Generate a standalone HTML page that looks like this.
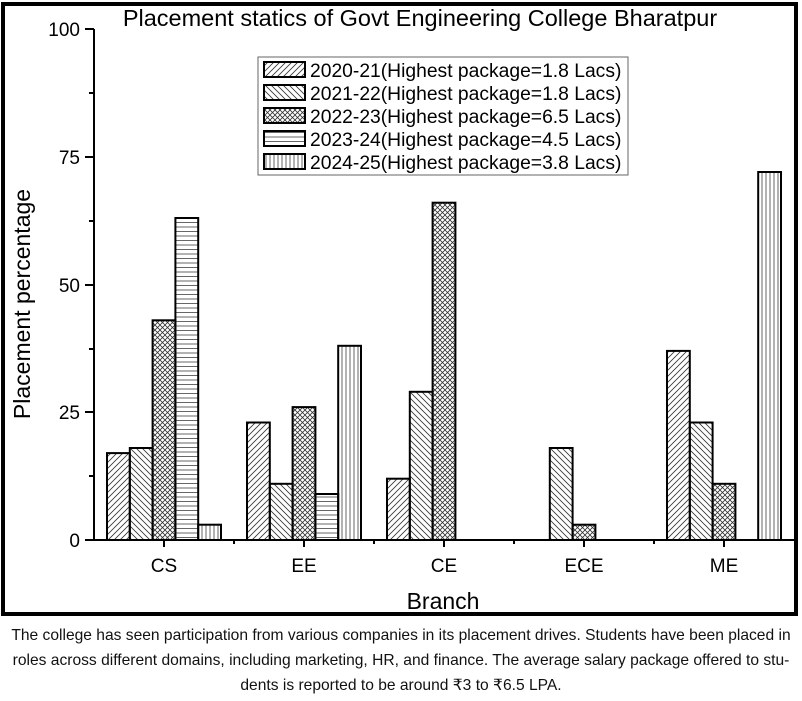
<!DOCTYPE html>
<html><head><meta charset="utf-8"><style>
body{margin:0;background:#fff;width:802px;height:701px;overflow:hidden;font-family:"Liberation Sans",sans-serif}
.cap{position:absolute;left:0;width:802px;top:623px;text-align:center;font-size:15.6px;line-height:25px;color:#111}
</style></head><body>
<svg width="802" height="701" style="position:absolute;left:0;top:0" font-family="Liberation Sans, sans-serif">
<defs>
<pattern id="p1" width="6" height="6" patternUnits="userSpaceOnUse"><path d="M-1,1 l2,-2 M0,6 l6,-6 M5,7 l2,-2" stroke="#333" stroke-width="0.8"/></pattern>
<pattern id="p2" width="6" height="6" patternUnits="userSpaceOnUse"><path d="M-1,5 l2,2 M0,0 l6,6 M5,-1 l2,2" stroke="#333" stroke-width="0.8"/></pattern>
<pattern id="p3" width="5" height="5" patternUnits="userSpaceOnUse"><path d="M0,0 l5,5 M0,5 l5,-5" stroke="#333" stroke-width="0.8"/></pattern>
<pattern id="p4" width="6" height="4.5" patternUnits="userSpaceOnUse"><path d="M0,2 h6" stroke="#555" stroke-width="0.9"/></pattern>
<pattern id="p5" width="4" height="6" patternUnits="userSpaceOnUse"><path d="M2,0 v6" stroke="#555" stroke-width="0.9"/></pattern>
</defs>
<rect x="3" y="4" width="793" height="610" fill="none" stroke="#000" stroke-width="4"/>
<text x="420" y="26" font-size="23.5" text-anchor="middle">Placement statics of Govt Engineering College Bharatpur</text>
<g stroke="#000" stroke-width="2" fill="none">
<path d="M94,29 V540 H794"/>
<path d="M85,29 h9 M89,93 h5 M85,157 h9 M89,221 h5 M85,285 h9 M89,349 h5 M85,412 h9 M89,476 h5 M85,540 h9"/>
<path d="M164,540 v7 M304,540 v7 M444,540 v7 M584,540 v7 M724,540 v7 M234,540 v4 M374,540 v4 M514,540 v4 M654,540 v4"/>
</g>
<g font-size="19" text-anchor="end">
<text x="80" y="36">100</text><text x="80" y="164">75</text><text x="80" y="292">50</text><text x="80" y="419">25</text><text x="80" y="547">0</text>
</g>
<g font-size="19" text-anchor="middle">
<text x="164" y="572">CS</text><text x="304" y="572">EE</text><text x="444" y="572">CE</text><text x="584" y="572">ECE</text><text x="724" y="572">ME</text>
</g>
<text x="443" y="609" font-size="23" text-anchor="middle">Branch</text>
<text transform="translate(30,304) rotate(-90)" font-size="23" text-anchor="middle">Placement percentage</text>
<g stroke="#000" stroke-width="2">
<rect x="107" y="453.1" width="22.8" height="86.9" fill="url(#p1)"/>
<rect x="129.8" y="448" width="22.8" height="92" fill="url(#p2)"/>
<rect x="152.6" y="320.3" width="22.8" height="219.7" fill="url(#p3)"/>
<rect x="175.4" y="218" width="22.8" height="322" fill="url(#p4)"/>
<rect x="198.2" y="524.7" width="22.8" height="15.3" fill="url(#p5)"/>
<rect x="247" y="422.5" width="22.8" height="117.5" fill="url(#p1)"/>
<rect x="269.8" y="483.8" width="22.8" height="56.2" fill="url(#p2)"/>
<rect x="292.6" y="407.1" width="22.8" height="132.9" fill="url(#p3)"/>
<rect x="315.4" y="494" width="22.8" height="46" fill="url(#p4)"/>
<rect x="338.2" y="345.8" width="22.8" height="194.2" fill="url(#p5)"/>
<rect x="387" y="478.7" width="22.8" height="61.3" fill="url(#p1)"/>
<rect x="409.8" y="391.8" width="22.8" height="148.2" fill="url(#p2)"/>
<rect x="432.6" y="202.7" width="22.8" height="337.3" fill="url(#p3)"/>
<rect x="549.8" y="448" width="22.8" height="92" fill="url(#p2)"/>
<rect x="572.6" y="524.7" width="22.8" height="15.3" fill="url(#p3)"/>
<rect x="667" y="350.9" width="22.8" height="189.1" fill="url(#p1)"/>
<rect x="689.8" y="422.5" width="22.8" height="117.5" fill="url(#p2)"/>
<rect x="712.6" y="483.8" width="22.8" height="56.2" fill="url(#p3)"/>
<rect x="758.2" y="172" width="22.8" height="368" fill="url(#p5)"/>
</g>
<rect x="258" y="57" width="370" height="118" fill="#fff" stroke="#666" stroke-width="1"/>
<g stroke="#000" stroke-width="2">
<rect x="264" y="62" width="41" height="15" fill="url(#p1)"/>
<rect x="264" y="85" width="41" height="15" fill="url(#p2)"/>
<rect x="264" y="108" width="41" height="15" fill="url(#p3)"/>
<rect x="264" y="131" width="41" height="15" fill="url(#p4)"/>
<rect x="264" y="154" width="41" height="15" fill="url(#p5)"/>
</g>
<g font-size="19.3">
<text x="310" y="77">2020-21(Highest package=1.8 Lacs)</text>
<text x="310" y="100">2021-22(Highest package=1.8 Lacs)</text>
<text x="310" y="123">2022-23(Highest package=6.5 Lacs)</text>
<text x="310" y="146">2023-24(Highest package=4.5 Lacs)</text>
<text x="310" y="169">2024-25(Highest package=3.8 Lacs)</text>
</g>
</svg>
<div class="cap">The college has seen participation from various companies in its placement drives. Students have been placed in<br>roles across different domains, including marketing, HR, and finance. The average salary package offered to stu-<br>dents is reported to be around ₹3 to ₹6.5 LPA.</div>
</body></html>
